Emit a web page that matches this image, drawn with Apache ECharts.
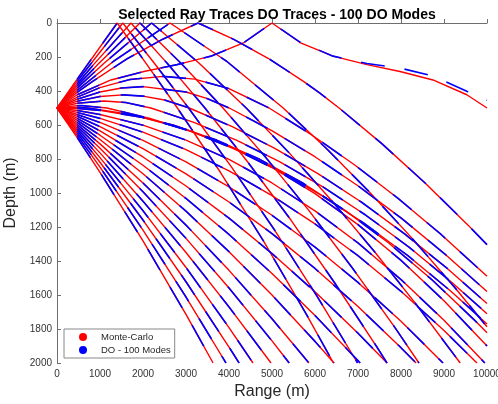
<!DOCTYPE html>
<html><head><meta charset="utf-8">
<script src="https://cdn.jsdelivr.net/npm/echarts@6/dist/echarts.min.js"></script>
<style>html,body{margin:0;padding:0;background:#fff}#c{width:498px;height:404px}</style>
</head><body><div id="c"></div>
<script>
// Legend / series names
const legendNames = ['Monte-Carlo', 'DO - 100 Modes'];

// Rays launched upward that reflect at the surface: [range m, depth m]
const surfaceRays = [
  [[0,500],[470,330],[700,248],[1400,0],[2100,248],[2800,500],[3800,878],[4800,1282],[5800,1714],[6430,2000]],
  [[0,500],[470,343],[765,247],[1530,0],[2295,247],[3060,500],[4060,848],[5060,1218],[6060,1612],[6990,2000]],
  [[0,500],[470,358],[860,242],[1720,0],[2580,242],[3440,500],[4440,819],[5440,1159],[6440,1522],[7440,1906],[7675,2000]],
  [[0,500],[470,370],[965,240],[1930,0],[2895,240],[3860,500],[4860,792],[5860,1104],[6860,1438],[7860,1792],[8418,2000]],
  [[0,500],[470,383],[1100,235],[2200,0],[3300,235],[4400,500],[5400,764],[6400,1048],[7400,1350],[8400,1670],[9377,2000]],
  [[0,500],[470,396],[1315,225],[2630,0],[3945,225],[5260,500],[6260,737],[7260,993],[8260,1267],[9260,1559],[10000,1787]],
  [[0,500],[470,408],[820,345],[1640,209],[2460,95],[3280,0],[4100,95],[4920,209],[5740,345],[6090,408],[6560,500],[7560,711],[8560,941],[9560,1189],[10000,1304]],
  [[0,500],[470,422],[1256,335],[2023,285],[2791,245],[3581,195],[4349,115],[5000,0],[5651,115],[6419,195],[7209,245],[7977,285],[8744,335],[9530,422],[10000,500]]
];

// Rays launched slightly upward that turn below the surface
const turningRays = [
  [[0,500],[470,436],[1000,380],[1700,332],[2467,314],[3200,330],[4000,386],[4933,500],[5933,660],[6933,837],[7933,1032],[8933,1244],[10000,1490]],
  [[0,500],[470,448],[1000,406],[1500,382],[2003,374],[3000,406],[3500,445],[4006,500],[5006,635],[6006,788],[7006,959],[8006,1148],[9006,1356],[10000,1580]],
  [[0,500],[470,460],[1000,432],[1538,423],[2000,430],[2500,453],[3076,500],[4076,610],[5076,739],[6076,887],[7076,1053],[8076,1239],[9076,1444],[10000,1650]],
  [[0,500],[470,472],[1092,459],[1600,468],[2184,500],[3184,585],[4184,691],[5184,817],[6184,964],[7184,1131],[8184,1318],[9184,1526],[10000,1710]],
  [[0,500],[470,486],[580,486],[1161,500],[2161,561],[3161,642],[4161,745],[5161,870],[6161,1015],[7161,1182],[8161,1369],[9161,1578],[10000,1770]],
  [[0,500],[470,496],[714,500],[1714,538],[2714,601],[3714,689],[4714,802],[5714,941],[6714,1105],[7714,1294],[8714,1509],[9714,1749],[10000,1822]]
];

// Rays launched horizontally or downward
const directRays = [
  [[0,500],[470,503],[1000,514],[2000,556],[3000,626],[4000,724],[5000,850],[6000,1004],[7000,1186],[8000,1396],[9000,1634],[10000,1900]],
  [[0,500],[470,515],[1000,538],[2000,601],[3000,689],[4000,802],[5000,941],[6000,1105],[7000,1294],[8000,1509],[9000,1749],[9950,2000]],
  [[0,500],[470,526],[1000,561],[2000,642],[3000,745],[4000,870],[5000,1015],[6000,1182],[7000,1369],[8000,1578],[9000,1809],[9767,2000]],
  [[0,500],[470,538],[1000,585],[2000,691],[3000,817],[4000,964],[5000,1131],[6000,1318],[7000,1526],[8000,1754],[8977,2000]],
  [[0,500],[470,549],[1000,610],[2000,739],[3000,887],[4000,1053],[5000,1239],[6000,1444],[7000,1668],[8000,1910],[8350,2000]],
  [[0,500],[470,561],[1000,635],[2000,788],[3000,959],[4000,1148],[5000,1356],[6000,1581],[7000,1825],[7674,2000]],
  [[0,500],[470,573],[1000,660],[2000,837],[3000,1032],[4000,1244],[5000,1474],[6000,1721],[7000,1986],[7050,2000]],
  [[0,500],[470,585],[1000,685],[2000,887],[3000,1107],[4000,1345],[5000,1600],[6000,1873],[6442,2000]],
  [[0,500],[470,597],[1000,711],[2000,941],[3000,1189],[4000,1455],[5000,1740],[5860,2000]],
  [[0,500],[470,609],[1000,737],[2000,993],[3000,1267],[4000,1559],[5000,1870],[5400,2000]],
  [[0,500],[470,622],[1000,764],[2000,1048],[3000,1350],[4000,1670],[4977,2000]],
  [[0,500],[470,634],[1000,792],[2000,1104],[3000,1438],[4000,1792],[4558,2000]],
  [[0,500],[470,647],[1000,819],[2000,1159],[3000,1522],[4000,1906],[4235,2000]],
  [[0,500],[470,661],[1000,848],[2000,1218],[3000,1612],[3930,2000]],
  [[0,500],[470,674],[1000,878],[2000,1282],[3000,1714],[3630,2000]]
];

// DO trace of the shallowest surface-reflected ray (differs from Monte-Carlo)
const doSurfaceRay8 = [[470,422],[1256,335],[2023,285],[2791,245],[3581,195],[4349,115],[5000,0],[5651,112],[6419,195],[7209,238],[7977,265],[8744,312],[9530,402],[10000,455]];

const FONT = '"Liberation Sans", Arial, Helvetica, sans-serif';
const mcRays = surfaceRays.concat(turningRays, directRays);
// DO traces start at the end of the source fan (first sample at 470 m)
const doRays = mcRays.map((r, i) => (i === 7 ? doSurfaceRay8 : r.slice(1)));

const series = [];
mcRays.forEach(r => series.push({
  type: 'line', name: legendNames[0], data: r, symbol: 'none', color: '#ff0000',
  lineStyle: { color: '#ff0000', width: 1.4 }, silent: true, z: 2
}));
doRays.forEach(r => series.push({
  type: 'line', name: legendNames[1], data: r, symbol: 'none', color: '#0000ff',
  lineStyle: { color: '#0000ff', width: 1.6, type: [24, 20] }, silent: true, z: 3
}));

const axisCol = '#6e6e6e';
const plain = v => String(v);
const chart = echarts.init(document.getElementById('c'));
chart.setOption({
  animation: false,
  backgroundColor: '#ffffff',
  textStyle: { fontFamily: FONT },
  title: {
    text: 'Selected Ray Traces DO Traces - 100 DO Modes',
    left: 272, top: 3, textAlign: 'center',
    textStyle: { fontSize: 14, fontWeight: 'bold', color: '#000', fontFamily: FONT }
  },
  grid: { left: 57, right: 11, top: 23, bottom: 41, containLabel: false, outerBoundsMode: 'none' },
  legend: {
    data: legendNames.map(n => ({ name: n, icon: 'circle' })),
    orient: 'vertical', left: 64, top: 329,
    itemWidth: 8, itemHeight: 8, itemGap: 3,
    padding: [3, 4, 3, 15],
    borderColor: '#888', borderWidth: 1, backgroundColor: '#fff',
    textStyle: { fontSize: 9.5, color: '#262626', fontFamily: FONT, padding: [0, 0, 0, 9] }
  },
  xAxis: {
    type: 'value', min: 0, max: 10000, interval: 1000,
    name: 'Range (m)', nameLocation: 'middle', nameGap: 21,
    nameTextStyle: { fontSize: 16, color: '#262626', fontFamily: FONT },
    axisLine: { lineStyle: { color: axisCol } },
    axisTick: { inside: true, length: 4, lineStyle: { color: axisCol } },
    axisLabel: { fontSize: 10, color: '#333', margin: 6, fontFamily: FONT, formatter: plain },
    splitLine: { show: false }
  },
  yAxis: {
    type: 'value', inverse: true, min: 0, max: 2000, interval: 200,
    name: 'Depth (m)', nameLocation: 'middle', nameGap: 30,
    nameTextStyle: { fontSize: 16, color: '#262626', fontFamily: FONT },
    axisLine: { show: true, lineStyle: { color: axisCol } },
    axisTick: { show: true, inside: true, length: 4, lineStyle: { color: axisCol } },
    axisLabel: { fontSize: 10, color: '#333', margin: 5, fontFamily: FONT, formatter: plain },
    splitLine: { show: false }
  },
  series: series
});
</script>
</body></html>
